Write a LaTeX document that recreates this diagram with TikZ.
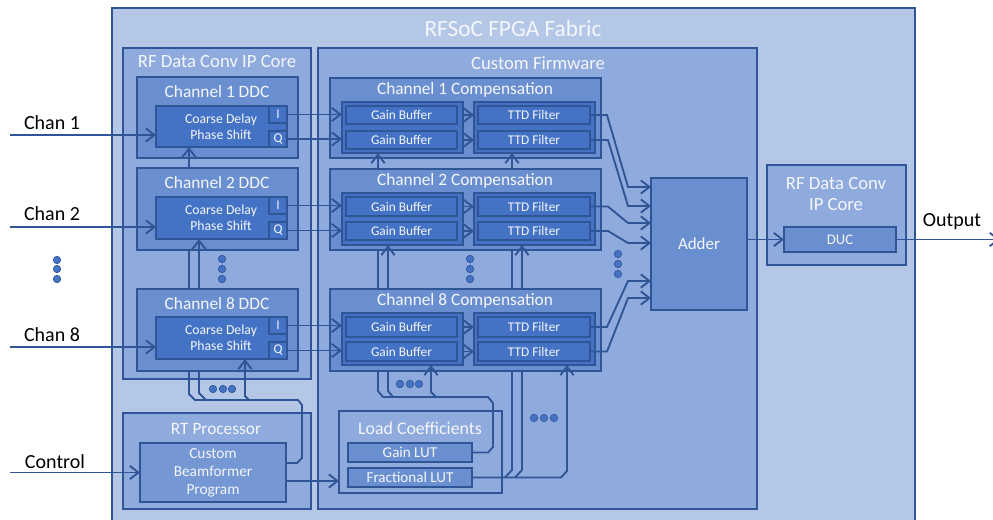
\documentclass[tikz,border=0pt]{standalone}
\usepackage{fontspec}
\setmainfont{Carlito}
\usetikzlibrary{arrows.meta,fit}
\definecolor{fab}{HTML}{B4C7E7}
\definecolor{mid}{HTML}{8FAADC}
\definecolor{chan}{HTML}{6A8FD0}
\definecolor{core}{HTML}{4472C4}
\definecolor{bord}{HTML}{2F5597}
\definecolor{txt}{HTML}{F4F6FA}
\newcommand\mkbox[6]{\node[#2,fit={(#3,#4)(#5,#6)}] (#1) {};}
\begin{document}
\begin{tikzpicture}[x=0.75pt,y=-0.75pt,
  box/.style={draw=bord,line width=1.5pt,inner sep=0pt,outer sep=0pt},
  fabbox/.style={box,fill=fab},
  midbox/.style={box,fill=mid},
  chanbox/.style={box,fill=chan},
  corebox/.style={box,fill=core},
  ttl/.style={text=txt,inner sep=0pt,font=\fontsize{13}{15}\selectfont,align=center},
  lbl/.style={text=txt,inner sep=0pt,font=\fontsize{10}{12}\selectfont,align=center},
  ext/.style={text=black,inner sep=0pt,font=\fontsize{15}{18}\selectfont},
  conn/.style={draw=bord,line width=1.4pt},
  arr/.style={conn,-{Straight Barb[length=6.5pt,width=10pt]}},
  dot/.style={fill=core,draw=bord,line width=0.5pt}]
\clip (0,0) rectangle (993,519);
\fill[white] (0,0) rectangle (993,519);
% ---------- containers ----------
\mkbox{fabric}{fabbox}{112}{8}{915}{540}
\node[ttl,font=\fontsize{17.5}{20}\selectfont] (tfab) at (513,28) {RFSoC FPGA Fabric};
\mkbox{rfl}{midbox}{123}{48}{311}{379}
\node[ttl,font=\fontsize{14}{16}\selectfont] (trfl) at (217,62) {RF Data Conv IP Core};
\mkbox{cfw}{midbox}{318}{48}{757}{509}
\node[ttl,font=\fontsize{14}{16}\selectfont] (tcfw) at (538,63) {Custom Firmware};
\mkbox{rtp}{midbox}{123}{413}{311}{509}
\node[ttl] (trtp) at (216,429) {RT Processor};
\mkbox{rfr}{midbox}{767}{165}{906}{265}
\node[ttl,font=\fontsize{14}{16.5}\selectfont] (trfr) at (836,194) {RF Data Conv\\IP Core};
% ---------- DDC channels ----------
\mkbox{ddc1}{chanbox}{137}{77}{298}{158}
\node[ttl] (tddc1) at (217,92) {Channel 1 DDC};
\mkbox{cd1}{corebox}{156}{106}{287}{147}
\node[lbl,font=\fontsize{10.3}{12}\selectfont] (tcd1) at (221,127) {Coarse Delay\\Phase Shift};
\node[corebox,fit={(269,106)(287,123)},label={[lbl]center:I}] (i1) {};
\node[corebox,fit={(269,131)(287,147)},label={[lbl]center:Q}] (q1) {};
\mkbox{ddc2}{chanbox}{137}{168}{298}{250}
\node[ttl] (tddc2) at (217,183) {Channel 2 DDC};
\mkbox{cd2}{corebox}{156}{197}{287}{239}
\node[lbl,font=\fontsize{10.3}{12}\selectfont] (tcd2) at (221,218) {Coarse Delay\\Phase Shift};
\node[corebox,fit={(269,197)(287,214)},label={[lbl]center:I}] (i2) {};
\node[corebox,fit={(269,222)(287,239)},label={[lbl]center:Q}] (q2) {};
\mkbox{ddc8}{chanbox}{137}{289}{298}{371}
\node[ttl] (tddc8) at (217,304) {Channel 8 DDC};
\mkbox{cd8}{corebox}{156}{317}{287}{359}
\node[lbl,font=\fontsize{10.3}{12}\selectfont] (tcd8) at (221,338) {Coarse Delay\\Phase Shift};
\node[corebox,fit={(269,317)(287,334)},label={[lbl]center:I}] (i8) {};
\node[corebox,fit={(269,342)(287,359)},label={[lbl]center:Q}] (q8) {};
% ---------- compensation ----------
\mkbox{cmp1}{chanbox}{330}{78}{601}{158}
\node[ttl] (tcmp1) at (465,90) {Channel 1 Compensation};
\mkbox{gg1}{corebox}{342}{102}{463}{153}
\mkbox{tg1}{corebox}{474}{102}{595}{153}
\node[corebox,fit={(346,106)(457,124)},label={[lbl]center:Gain Buffer}] (gb1a) {};
\node[corebox,fit={(346,131)(457,149)},label={[lbl]center:Gain Buffer}] (gb1b) {};
\node[corebox,fit={(478,106)(590,124)},label={[lbl]center:TTD Filter}] (tf1a) {};
\node[corebox,fit={(478,131)(590,149)},label={[lbl]center:TTD Filter}] (tf1b) {};
\mkbox{cmp2}{chanbox}{330}{169}{601}{250}
\node[ttl] (tcmp2) at (465,181) {Channel 2 Compensation};
\mkbox{gg2}{corebox}{342}{193}{463}{245}
\mkbox{tg2}{corebox}{474}{193}{595}{245}
\node[corebox,fit={(346,197)(457,216)},label={[lbl]center:Gain Buffer}] (gb2a) {};
\node[corebox,fit={(346,222)(457,240)},label={[lbl]center:Gain Buffer}] (gb2b) {};
\node[corebox,fit={(478,197)(590,216)},label={[lbl]center:TTD Filter}] (tf2a) {};
\node[corebox,fit={(478,222)(590,240)},label={[lbl]center:TTD Filter}] (tf2b) {};
\mkbox{cmp8}{chanbox}{330}{289}{601}{371}
\node[ttl] (tcmp8) at (465,301) {Channel 8 Compensation};
\mkbox{gg8}{corebox}{342}{313}{463}{365}
\mkbox{tg8}{corebox}{474}{313}{595}{365}
\node[corebox,fit={(346,317)(457,337)},label={[lbl]center:Gain Buffer}] (gb8a) {};
\node[corebox,fit={(346,342)(457,361)},label={[lbl]center:Gain Buffer}] (gb8b) {};
\node[corebox,fit={(478,317)(590,337)},label={[lbl]center:TTD Filter}] (tf8a) {};
\node[corebox,fit={(478,342)(590,361)},label={[lbl]center:TTD Filter}] (tf8b) {};
% ---------- adder, DUC ----------
\node[chanbox,fit={(651,178)(747,310)},label={[ttl,font=\fontsize{12.7}{15}\selectfont]center:Adder}] (adder) {};
\node[chanbox,fit={(784,227)(896,252)},label={[lbl,font=\fontsize{11}{13}\selectfont]center:DUC}] (duc) {};
% ---------- load coefficients, RT ----------
\mkbox{load}{midbox}{339}{411}{502}{493}
\node[ttl,font=\fontsize{13.4}{15}\selectfont] (tload) at (420,428) {Load Coefficients};
\node[chanbox,fit={(348,443)(472,462)},label={[lbl,font=\fontsize{11.3}{13}\selectfont]center:Gain LUT}] (glut) {};
\node[chanbox,fit={(348,468)(472,487)},label={[lbl,font=\fontsize{11.3}{13}\selectfont]center:Fractional LUT}] (flut) {};
\node[box,fill=chan!70!mid,fit={(140,443)(286,502)}] (cbp) {};
\node[lbl,font=\fontsize{11.5}{13.5}\selectfont] (tcbp) at (213,473) {Custom\\Beamformer\\Program};
% ---------- external labels ----------
\node[ext] (lc1) at (52,123) {Chan 1};
\node[ext] (lc2) at (52,214) {Chan 2};
\node[ext] (lc8) at (52,335) {Chan 8};
\node[ext] (lctl) at (55,462) {Control};
\node[ext] (lout) at (952,222) {Output};
% ---------- inputs ----------
\coordinate (in1) at (10,135);
\coordinate (in2) at (10,227);
\coordinate (in8) at (10,347);
\coordinate (inc) at (10,472.5);
\draw[arr] (in1) -- (in1 -| cd1.west);
\draw[arr] (in2) -- (in2 -| cd2.west);
\draw[arr] (in8) -- (in8 -| cd8.west);
\draw[arr] (inc) -- (inc -| cbp.west);
% ---------- I/Q to gain buffers ----------
\foreach \n in {1,2,8}{
  \draw[arr] (i\n.east) -- (i\n.east -| gg\n.west);
  \draw[arr] (q\n.east) -- (q\n.east -| gg\n.west);
  \draw[arr] (gb\n a.east -| gg\n.east) -- (gb\n a.east -| tg\n.west);
  \draw[arr] (gb\n b.east -| gg\n.east) -- (gb\n b.east -| tg\n.west);
}
% ---------- TTD to adder ----------
\coordinate (a1) at (628,187);
\coordinate (a2) at (628,206);
\coordinate (a3) at (628,223);
\coordinate (a4) at (628,243);
\coordinate (a5) at (628,281);
\coordinate (a6) at (628,298);
\draw[arr] (tf1a.east) -- (607,115) -- (a1) -- (a1 -| adder.west);
\draw[arr] (tf1b.east) -- (608,140) -- (a2) -- (a2 -| adder.west);
\draw[arr] (tf2a.east) -- (608,206.5) -- (a3) -- (a3 -| adder.west);
\draw[arr] (tf2b.east) -- (608,231) -- (a4) -- (a4 -| adder.west);
\draw[arr] (tf8a.east) -- (607,327) -- (a5) -- (a5 -| adder.west);
\draw[arr] (tf8b.east) -- (607,351.5) -- (a6) -- (a6 -| adder.west);
% ---------- adder to DUC to output ----------
\coordinate (outp) at (1000,239.5);
\draw[arr] (duc.west -| adder.east) -- (duc.west);
\draw[arr] (duc.east) -- (outp);
% ---------- DDC control bus ----------
\coordinate (bx1) at (189,394);
\coordinate (bx2) at (199,393);
\coordinate (bx3) at (245,396);
\draw[arr] (bx1 |- ddc2.north) -- (bx1 |- cd1.south);
\draw[conn] (bx1 |- ddc8.north) -- (bx1 |- ddc2.south);
\draw[arr] (bx2 |- ddc8.north) -- (bx2 |- cd2.south);
\draw[conn] (cbp.east |- 297,463) -- (297,463) -- (302,458) -- (302,405) -- (298,400) -- (195,400) -- (bx1) -- (bx1 |- ddc8.south);
\draw[conn] (206,400) -- (bx2) -- (bx2 |- ddc8.south);
\draw[arr] (249,400) -- (bx3) -- (bx3 |- cd8.south);
% ---------- compensation gain bus ----------
\coordinate (gx1) at (378,391);
\coordinate (gx2) at (388,391);
\coordinate (gx3) at (431,392);
\draw[arr] (gx1 |- cmp2.north) -- (gx1 |- gg1.south);
\draw[conn] (gx1 |- cmp8.north) -- (gx1 |- cmp2.south);
\draw[arr] (gx2 |- cmp8.north) -- (gx2 |- gg2.south);
\draw[conn] (glut.east) -- (488,452.5) -- (493,447) -- (493,403) -- (488,397) -- (383,397) -- (gx1) -- (gx1 |- cmp8.south);
\draw[conn] (393,397) -- (gx2) -- (gx2 |- cmp8.south);
\draw[arr] (436,397) -- (gx3) -- (gx3 |- gg8.south);
% ---------- compensation TTD bus ----------
\coordinate (tx1) at (512,470);
\coordinate (tx2) at (522,470);
\coordinate (tx3) at (567,471);
\draw[arr] (tx1 |- cmp2.north) -- (tx1 |- tg1.south);
\draw[conn] (tx1 |- cmp8.north) -- (tx1 |- cmp2.south);
\draw[arr] (tx2 |- cmp8.north) -- (tx2 |- tg2.south);
\draw[arr] (flut.east) -- (561,477.5) -- (tx3) -- (tx3 |- tg8.south);
\draw[conn] (505,477.5) -- (tx1) -- (tx1 |- cmp8.south);
\draw[conn] (515,477.5) -- (tx2) -- (tx2 |- cmp8.south);
% ---------- RT to load ----------
\coordinate (lcin) at (339,481);
\draw[arr] (lcin -| cbp.east) -- (lcin -| load.west);
% ---------- dots ----------
\foreach \y in {260,269,279}{\filldraw[dot] (57,\y) circle[radius=2.8pt];}
\foreach \y in {259,269,279}{\filldraw[dot] (222,\y) circle[radius=2.8pt];}
\foreach \y in {259,269,279}{\filldraw[dot] (470,\y) circle[radius=2.8pt];}
\foreach \y in {254,264,274}{\filldraw[dot] (618,\y) circle[radius=2.8pt];}
\foreach \x in {213,223,232}{\filldraw[dot] (\x,389) circle[radius=2.8pt];}
\foreach \x in {400,410,419}{\filldraw[dot] (\x,384) circle[radius=2.8pt];}
\foreach \x in {534,544,554}{\filldraw[dot] (\x,418) circle[radius=2.8pt];}
\end{tikzpicture}
\end{document}
